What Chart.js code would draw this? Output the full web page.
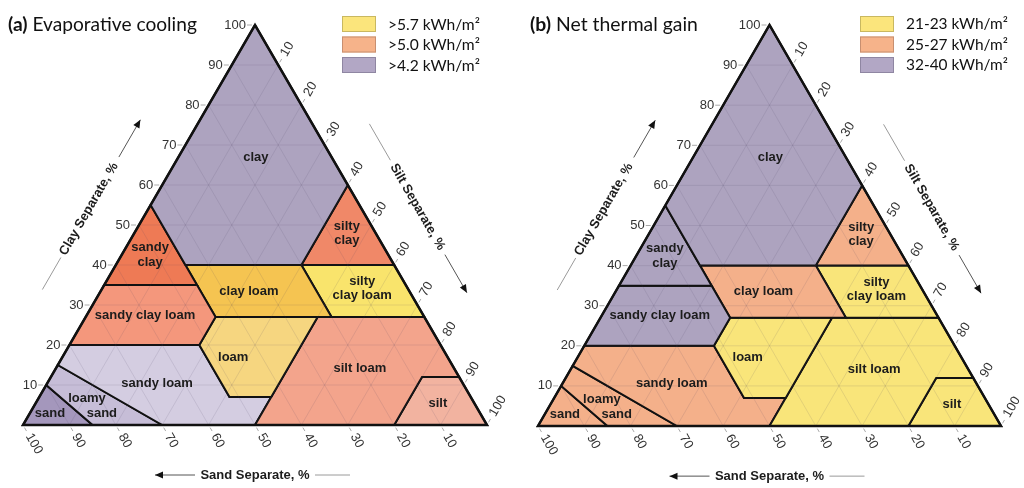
<!DOCTYPE html>
<html><head><meta charset="utf-8">
<script src="https://cdn.jsdelivr.net/npm/chart.js@4.4.1/dist/chart.umd.min.js"></script>
<style>
html,body{margin:0;padding:0;background:#fff;}
#wrap{position:relative;width:1024px;height:488px;overflow:hidden;background:#fff;}
canvas{position:absolute;top:0;}
</style></head><body>
<div id="wrap">
<canvas id="ca" width="512" height="488" style="left:0"></canvas>
<canvas id="cb" width="512" height="488" style="left:512px"></canvas>
</div>
<script>
// ---- DATA ----
// Soil texture classes (USDA)
const classNames = ['clay','sandy clay','silty clay','sandy clay loam','clay loam','silty clay loam','loam','silt loam','silt','sandy loam','loamy sand','sand'];
// polygon vertices as [sand %, clay %]
const vClay          = [[0,100],[45,55],[45,40],[20,40],[0,60]];
const vSandyClay     = [[45,55],[65,35],[45,35]];
const vSiltyClay     = [[20,40],[0,60],[0,40]];
const vSandyClayLoam = [[45,35],[65,35],[80,20],[52,20],[45,27]];
const vClayLoam      = [[45,40],[45,27],[20,27],[20,40]];
const vSiltyClayLoam = [[20,40],[20,27],[0,27],[0,40]];
const vLoam          = [[45,27],[52,20],[52,7],[43,7],[23,27]];
const vSiltLoam      = [[23,27],[50,0],[20,0],[8,12],[0,12],[0,27]];
const vSilt          = [[20,0],[8,12],[0,12],[0,0]];
const vSandyLoam     = [[80,20],[52,20],[52,7],[43,7],[50,0],[70,0],[85,15]];
const vLoamySand     = [[85,15],[70,0],[85,0],[90,10]];
const vSand          = [[90,10],[85,0],[100,0]];
const classVertices = [vClay,vSandyClay,vSiltyClay,vSandyClayLoam,vClayLoam,vSiltyClayLoam,vLoam,vSiltLoam,vSilt,vSandyLoam,vLoamySand,vSand];

// (a) evaporative cooling category per class
const evapLegend = ['>5.7 kWh/m²','>5.0 kWh/m²','>4.2 kWh/m²'];
const evapCategory = ['>4.2 kWh/m²','>5.0 kWh/m²','>5.0 kWh/m²','>5.0 kWh/m²','>5.7 kWh/m²','>5.7 kWh/m²','>5.7 kWh/m²','>5.0 kWh/m²','>5.0 kWh/m²','>4.2 kWh/m²','>4.2 kWh/m²','>4.2 kWh/m²'];
// (b) net thermal gain category per class
const thermLegend = ['21-23 kWh/m²','25-27 kWh/m²','32-40 kWh/m²'];
const thermCategory = ['32-40 kWh/m²','32-40 kWh/m²','25-27 kWh/m²','32-40 kWh/m²','25-27 kWh/m²','21-23 kWh/m²','21-23 kWh/m²','21-23 kWh/m²','21-23 kWh/m²','25-27 kWh/m²','25-27 kWh/m²','25-27 kWh/m²'];

// tick labels
const clayTicks = [10,20,30,40,50,60,70,80,90,100];
const siltTicks = [10,20,30,40,50,60,70,80,90,100];
const sandTicks = [100,90,80,70,60,50,40,30,20,10];

// ---- STYLE ----
const evapShades = ['#ADA3BF','#EE7A55','#F08868','#F4977C','#F5C451','#F9E46C','#F6D680','#F3A48C','#F2B3A0','#D4CDE1','#C6BDD7','#A497BC'];
const legendColors = ['#FBE57C','#F6B38A','#B2A7C5'];
const legendBorders = ['#C9B860','#C88F70','#8F86A2'];
const thermColorMap = {'21-23 kWh/m²':'#F9E57A','25-27 kWh/m²':'#F4B08A','32-40 kWh/m²':'#ADA3BF'};

// label anchors in chart units (x = silt + clay/2, y = clay)
const labelItems = [
 ['clay',50.2,67],['sandy',27.4,44.3],['clay',27.4,40.6],['silty',69.8,49.6],['clay',69.8,46.1],
 ['clay loam',48.7,33.5],['silty',73.1,35.8],['clay loam',73.1,32.3],['sandy clay loam',26.3,27.5],
 ['loam',45.3,17],['silt loam',72.6,14.2],['silt',89.4,5.5],['sandy loam',28.9,10.5],
 ['loamy',13.8,6.6],['sand',17.0,3.0],['sand',5.8,3.0]
];

function tern(sand, clay){ return {x: 100 - sand - clay/2, y: clay}; }

function arrowHead(ctx, x0,y0,x1,y1){
  const a = Math.atan2(y1-y0, x1-x0), L=8, W=3.5;
  ctx.beginPath();
  ctx.moveTo(x1,y1);
  ctx.lineTo(x1 - L*Math.cos(a) + W*Math.sin(a), y1 - L*Math.sin(a) - W*Math.cos(a));
  ctx.lineTo(x1 - L*Math.cos(a) - W*Math.sin(a), y1 - L*Math.sin(a) + W*Math.cos(a));
  ctx.closePath(); ctx.fill();
}

function decor(cfg){
  return {
    id: 'decor',
    afterDatasetsDraw(chart){
      const ctx = chart.ctx, xs = chart.scales.x, ys = chart.scales.y;
      const U = (x,y)=>[xs.getPixelForValue(x), ys.getPixelForValue(y)];
      const P = (s,c)=>{const t=tern(s,c); return U(t.x,t.y);};
      const ca = chart.chartArea;
      // grid
      ctx.save();
      ctx.beginPath(); let p=P(100,0); ctx.moveTo(p[0],p[1]); p=P(0,0); ctx.lineTo(p[0],p[1]); p=P(0,100); ctx.lineTo(p[0],p[1]); ctx.closePath(); ctx.clip();
      ctx.strokeStyle='rgba(80,70,100,0.13)'; ctx.lineWidth=1;
      for(let k=10;k<100;k+=10){
        const segs=[[P(100-k,k),P(0,k)],[P(k,0),P(k,100-k)],[P(100-k,0),P(0,100-k)]];
        segs.forEach(s=>{ctx.beginPath();ctx.moveTo(s[0][0],s[0][1]);ctx.lineTo(s[1][0],s[1][1]);ctx.stroke();});
      }
      ctx.restore();
      // re-stroke outline
      ctx.save(); ctx.strokeStyle='#111'; ctx.lineWidth=2.5; ctx.lineJoin='miter';
      ctx.beginPath(); p=P(100,0); ctx.moveTo(p[0],p[1]); p=P(0,0); ctx.lineTo(p[0],p[1]); p=P(0,100); ctx.lineTo(p[0],p[1]); ctx.closePath(); ctx.stroke(); ctx.restore();

      // class labels
      ctx.save();
      ctx.font='bold 13px "Liberation Sans", Arial, sans-serif'; ctx.fillStyle='#1c1c1c'; ctx.textAlign='center'; ctx.textBaseline='middle';
      labelItems.forEach(l=>{const q=U(l[1],l[2]); ctx.fillText(l[0], q[0], q[1]);});
      ctx.restore();

      // ticks
      ctx.save();
      ctx.font='13px "Liberation Sans", Arial, sans-serif'; ctx.fillStyle='#333'; ctx.strokeStyle='#aaa'; ctx.lineWidth=1;
      ctx.textBaseline='middle';
      clayTicks.forEach(c=>{ const e=P(100-c,c);
        ctx.beginPath(); ctx.moveTo(e[0]-3,e[1]); ctx.lineTo(e[0]-8,e[1]); ctx.stroke();
        ctx.textAlign='right'; ctx.fillText(String(c), e[0]-9, e[1]); });
      ctx.textAlign='center';
      const c60=Math.cos(Math.PI/3), s60=Math.sin(Math.PI/3);
      siltTicks.forEach(t=>{ const e=P(0,100-t); const w=ctx.measureText(String(t)).width; const d=11+w/2;
        ctx.beginPath(); ctx.moveTo(e[0]+3*c60,e[1]-3*s60); ctx.lineTo(e[0]+7*c60,e[1]-7*s60); ctx.stroke();
        ctx.save(); ctx.translate(e[0]+d*c60, e[1]-d*s60); ctx.rotate(-Math.PI/3); ctx.fillText(String(t),0,0); ctx.restore(); });
      sandTicks.forEach(s=>{ const e=P(s,0); const w=ctx.measureText(String(s)).width; const d=11+w/2;
        ctx.beginPath(); ctx.moveTo(e[0]+3*c60,e[1]+3*s60); ctx.lineTo(e[0]+7*c60,e[1]+7*s60); ctx.stroke();
        ctx.save(); ctx.translate(e[0]+d*c60, e[1]+d*s60); ctx.rotate(Math.PI/3); ctx.fillText(String(s),0,0); ctx.restore(); });
      ctx.restore();

      // axis titles
      ctx.save();
      ctx.font='bold 13px "Liberation Sans", Arial, sans-serif'; ctx.fillStyle='#1c1c1c'; ctx.textAlign='center'; ctx.textBaseline='middle';
      const drawAxisTitle=(txt, cx, cy, ang, lineFrom, lineTo, arrFrom, arrTo)=>{
        const dx=Math.cos(ang), dy=Math.sin(ang);
        ctx.save(); ctx.translate(cx,cy); ctx.rotate(ang); ctx.fillText(txt,0,0); ctx.restore();
        ctx.strokeStyle='#9a9a9a'; ctx.lineWidth=1;
        ctx.beginPath(); ctx.moveTo(cx+lineFrom*dx, cy+lineFrom*dy); ctx.lineTo(cx+lineTo*dx, cy+lineTo*dy); ctx.stroke();
        ctx.strokeStyle='#555';
        const ax0=cx+arrFrom*dx, ay0=cy+arrFrom*dy, ax1=cx+arrTo*dx, ay1=cy+arrTo*dy;
        ctx.beginPath(); ctx.moveTo(ax0,ay0); ctx.lineTo(ax1,ay1); ctx.stroke();
        ctx.fillStyle='#111'; arrowHead(ctx,ax0,ay0,ax1,ay1); ctx.fillStyle='#1c1c1c';
      };
      let q=U(14.2,54); drawAxisTitle('Clay Separate, %', q[0], q[1], -Math.PI/3, -93, -56, 60, 103);
      q=U(85.0,54.5); drawAxisTitle('Silt Separate, %', q[0], q[1], Math.PI/3, -96, -54, 55, 99);
      q=U(50,-12.5); drawAxisTitle('Sand Separate, %', q[0], q[1], 0, 60, 95, -60, -100);
      ctx.restore();

      // panel title
      ctx.save();
      const fam='Lato, "Open Sans", sans-serif';
      ctx.font='bold 20px '+fam; const w1=ctx.measureText(cfg.tag).width;
      ctx.font='20px '+fam; const w2=ctx.measureText(' '+cfg.title).width;
      const fs=20*cfg.titleW/(w1+w2);
      ctx.textBaseline='alphabetic'; ctx.fillStyle='#111'; ctx.textAlign='left';
      ctx.font='bold '+fs+'px '+fam; ctx.fillText(cfg.tag, ca.left+cfg.titleX, 31);
      const bw=ctx.measureText(cfg.tag).width;
      ctx.font=fs+'px '+fam; ctx.fillText(' '+cfg.title, ca.left+cfg.titleX+bw, 31);
      // legend
      ctx.font='15px '+fam; const lw=ctx.measureText(cfg.legend[0]).width;
      const lfs=15*cfg.legendW/lw;
      ctx.font=lfs+'px '+fam; ctx.textBaseline='middle';
      cfg.legend.forEach((t,i)=>{
        const bx=ca.left+cfg.legX, by=16+i*20.5;
        ctx.fillStyle=legendColors[i]; ctx.fillRect(bx,by,34,16);
        ctx.strokeStyle=legendBorders[i]; ctx.lineWidth=1; ctx.strokeRect(bx+0.5,by+0.5,33,15);
        ctx.fillStyle='#111'; ctx.fillText(t, bx+46, by+8.5);
      });
      ctx.restore();
    }
  };
}

function makeChart(id, cfg){
  const datasets = classVertices.map((verts,i)=>({
    label: classNames[i],
    data: verts.concat([verts[0]]).map(v=>tern(v[0],v[1])),
    showLine:true, fill:'shape', backgroundColor: cfg.colors[i],
    borderColor:'#111', borderWidth:2, borderJoinStyle:'miter',
    pointRadius:0, pointHoverRadius:0, tension:0, clip:false
  }));
  new Chart(document.getElementById(id), {
    type:'scatter',
    data:{datasets},
    options:{
      responsive:false, animation:false, events:[],
      layout:{padding:cfg.pad},
      scales:{x:{type:'linear',min:0,max:100,display:false}, y:{type:'linear',min:0,max:100,display:false}},
      plugins:{legend:{display:false}, tooltip:{enabled:false}}
    },
    plugins:[decor(cfg)]
  });
}

makeChart('ca', {
  colors: evapShades,
  pad:{left:23,right:25,top:25,bottom:63},
  tag:'(a)', title:'Evaporative cooling', titleX:-15, titleW:189,
  legend: evapLegend, legX:319, legendW:92
});
makeChart('cb', {
  colors: thermCategory.map(c=>thermColorMap[c]),
  pad:{left:26,right:23,top:25,bottom:62},
  tag:'(b)', title:'Net thermal gain', titleX:-8, titleW:168,
  legend: thermLegend, legX:322, legendW:102
});
</script>
</body></html>
